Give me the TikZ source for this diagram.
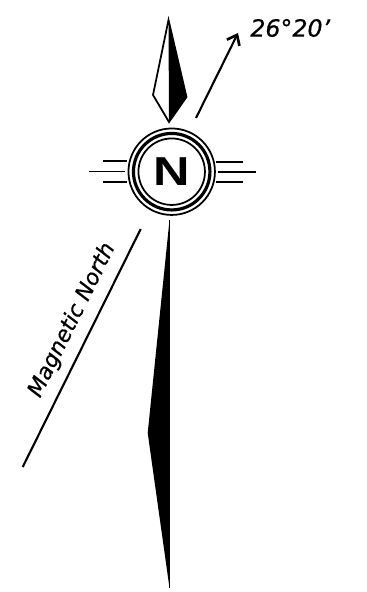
\documentclass[tikz,border=0pt]{standalone}
\usepackage{fontspec}
\setsansfont[FakeBold=0.6]{DejaVu Sans}
\newfontfamily\capfont{Liberation Sans}
\usepackage{xcolor}
\usepackage{tikz}
\usetikzlibrary{arrows.meta, positioning, calc}

\tikzset{
  ink/.style={draw=black, line width=1pt, line join=miter},
  bar/.style={draw=black, line width=1pt},
  ring/.style={circle, draw=black, inner sep=0pt},
  label/.style={font=\sffamily\itshape\fontsize{12.5}{14}\selectfont, inner sep=0pt}
}

\begin{document}
\begin{tikzpicture}[x=0.02cm, y=-0.02cm]
  \useasboundingbox (0,0) rectangle (366,592);

  % upper needle
  \coordinate (ntip) at (168.5,20);
  \coordinate (nleft) at (153,95);
  \coordinate (nright) at (186.5,97);
  \coordinate (nfoot) at (169,122);
  \fill[black] (ntip) -- (nright) -- (nfoot) -- cycle;
  \draw[ink] (ntip) -- (nleft) -- (nfoot) -- (nright) -- cycle;

  % rings
  \node[ring, line width=1pt, minimum size=1.73cm] (outer) at (171.7,171.7) {};
  \node[ring, line width=1.8pt, minimum size=1.53cm] (middle) at (outer) {};
  \node[ring, line width=1pt, minimum size=1.33cm] (inner) at (outer) {};
  \node[font=\capfont\bfseries\fontsize{23}{23}\selectfont, xscale=1.25, inner sep=0pt] (letter) at (outer) {N};

  % side bars
  \coordinate (la) at (102.7,161);
  \coordinate (lb) at (127,161);
  \coordinate (lc) at (89,171.5);
  \coordinate (ld) at (125,171.5);
  \coordinate (le) at (102.7,182);
  \coordinate (lf) at (127,182);
  \coordinate (ra) at (216,162);
  \coordinate (rb) at (243,162);
  \coordinate (rc) at (218,172);
  \coordinate (rd) at (256,172);
  \coordinate (re) at (216,182);
  \coordinate (rf) at (243,182);
  \draw[bar] (la) -- (lb);
  \draw[bar] (lc) -- (ld);
  \draw[bar] (le) -- (lf);
  \draw[bar] (ra) -- (rb);
  \draw[bar] (rc) -- (rd);
  \draw[bar] (re) -- (rf);

  % bearing arrow
  \coordinate (afoot) at (196,118);
  \coordinate (ahead) at (238,33);
  \draw[bar, line width=1.2pt, -{Straight Barb[length=5pt, width=8pt, line width=1.5pt]}] (afoot) -- (ahead);
  \node[label, anchor=west, font=\sffamily\itshape\fontsize{13.5}{14}\selectfont] (bearing) at (250,28) {26°20'};

  % lower needle
  \coordinate (stop) at (169.5,220);
  \coordinate (sleft) at (147.7,433);
  \coordinate (sfoot) at (169.5,588);
  \fill[black] (stop) -- (sleft) -- (sfoot) -- cycle;
  \draw[ink, line width=0.7pt] (stop) -- (sfoot);

  % magnetic north
  \coordinate (mtop) at (140.7,229);
  \coordinate (mfoot) at (22.7,467);
  \draw[bar, line width=1.2pt] (mtop) -- (mfoot);
  \node[label, rotate=63.6, anchor=south, inner sep=0pt] (magnetic) at (82,325) {Magnetic North};
\end{tikzpicture}
\end{document}
